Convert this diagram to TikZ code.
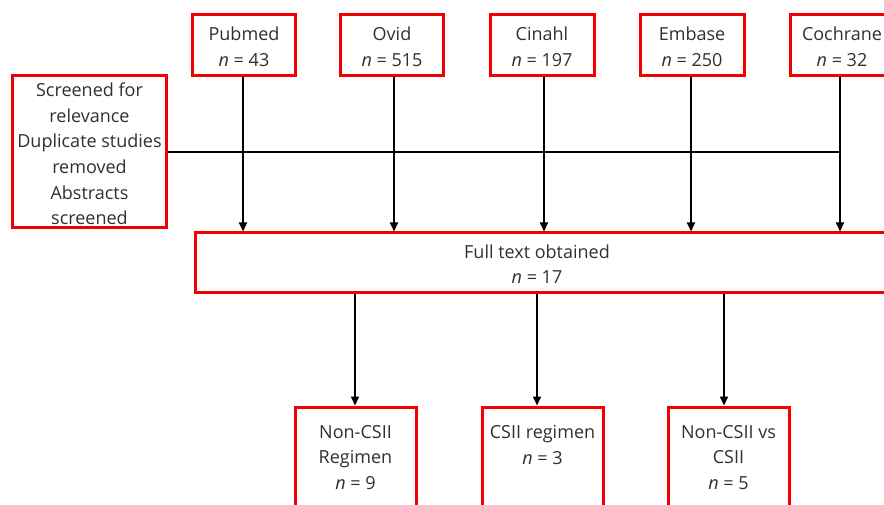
\documentclass[tikz,border=0pt]{standalone}
\usepackage{fontspec}
\setmainfont{Open Sans}
\usetikzlibrary{arrows.meta}
\definecolor{boxred}{HTML}{F00000}
\definecolor{txt}{HTML}{303030}
\newcommand{\nval}[1]{\textit{n} = #1}
\tikzset{
  redbox/.style={draw=boxred, line width=3pt, fill=white, inner sep=0pt, text=txt,
    align=center, font=\fontsize{18}{25.6}\selectfont},
  lbl/.style={inner sep=0pt, text=txt, align=center, font=\fontsize{18}{25.6}\selectfont},
  arr/.style={line width=2pt, -{Triangle[length=9pt,width=8pt]}},
  ln/.style={line width=2pt}
}
\begin{document}
\begin{tikzpicture}[x=1pt,y=1pt]
\useasboundingbox (0,0) rectangle (884,-505);
\clip (0,0) rectangle (884,-505);
\fill[white] (0,0) rectangle (884,-505);
% top sources
\node[redbox, minimum width=103pt, minimum height=61pt] (pub) at (244,-45) {};
\node[lbl] (pubtxt) at (244,-46.5) {Pubmed\\\nval{43}};
\node[redbox, minimum width=103pt, minimum height=61pt] (ovid) at (392,-45) {};
\node[lbl] (ovidtxt) at (392,-46.5) {Ovid\\\nval{515}};
\node[redbox, minimum width=104pt, minimum height=61pt] (cin) at (542,-45) {};
\node[lbl] (cintxt) at (542,-46.5) {Cinahl\\\nval{197}};
\node[redbox, minimum width=104pt, minimum height=61pt] (emb) at (692,-45) {};
\node[lbl] (embtxt) at (692,-46.5) {Embase\\\nval{250}};
\node[redbox, minimum width=104pt, minimum height=61pt] (coch) at (842,-45) {};
\node[lbl] (cochtxt) at (842,-46.5) {Cochrane\\\nval{32}};
% left screening box
\node[redbox, minimum width=154pt, minimum height=152pt] (screen) at (89.5,-152) {};
\node[lbl] (screentxt) at (89.5,-154)
  {Screened for\\relevance\\Duplicate studies\\removed\\Abstracts\\screened};
% full text box
\node[redbox, minimum width=720pt, minimum height=60pt, anchor=north west] (full) at (193.5,-231.5) {};
\node[lbl] (fulltxt) at (537,-264) {Full text obtained\\\nval{17}};
% bottom boxes
\node[redbox, minimum width=121pt, minimum height=130pt, anchor=north] (b1) at (355.5,-405.5) {};
\node[redbox, minimum width=121pt, minimum height=130pt, anchor=north] (b2) at (542.5,-405.5) {};
\node[redbox, minimum width=121pt, minimum height=130pt, anchor=north] (b3) at (728.5,-405.5) {};
\node[lbl, anchor=north] (b1txt) at (355.5,-425) {Non-CSII\\Regimen\\\nval{9}};
\node[lbl, anchor=north] (b2txt) at (542.5,-425) {CSII regimen\\\nval{3}};
\node[lbl, anchor=north] (b3txt) at (728.5,-425) {Non-CSII vs\\CSII\\\nval{5}};
% connectors
\coordinate (cj) at (coch.south |- screen.east);
\draw[ln] (screen.east) -- ([xshift=-2pt]cj);
\draw[arr] ([xshift=-1pt]pub.south) -- ([xshift=-1pt]pub.south |- full.north);
\draw[arr] ([xshift=2pt]ovid.south) -- ([xshift=2pt]ovid.south |- full.north);
\draw[arr] ([xshift=2pt]cin.south) -- ([xshift=2pt]cin.south |- full.north);
\draw[arr] ([xshift=-1pt]emb.south) -- ([xshift=-1pt]emb.south |- full.north);
\draw[arr] ([xshift=-2pt]coch.south) -- ([xshift=-2pt]coch.south |- full.north);
\draw[arr] ([xshift=-0.5pt]b1.north |- full.south) -- ([xshift=-0.5pt]b1.north);
\draw[arr] ([xshift=-5.5pt]b2.north |- full.south) -- ([xshift=-5.5pt]b2.north);
\draw[arr] ([xshift=-4.5pt]b3.north |- full.south) -- ([xshift=-4.5pt]b3.north);
\end{tikzpicture}
\end{document}
